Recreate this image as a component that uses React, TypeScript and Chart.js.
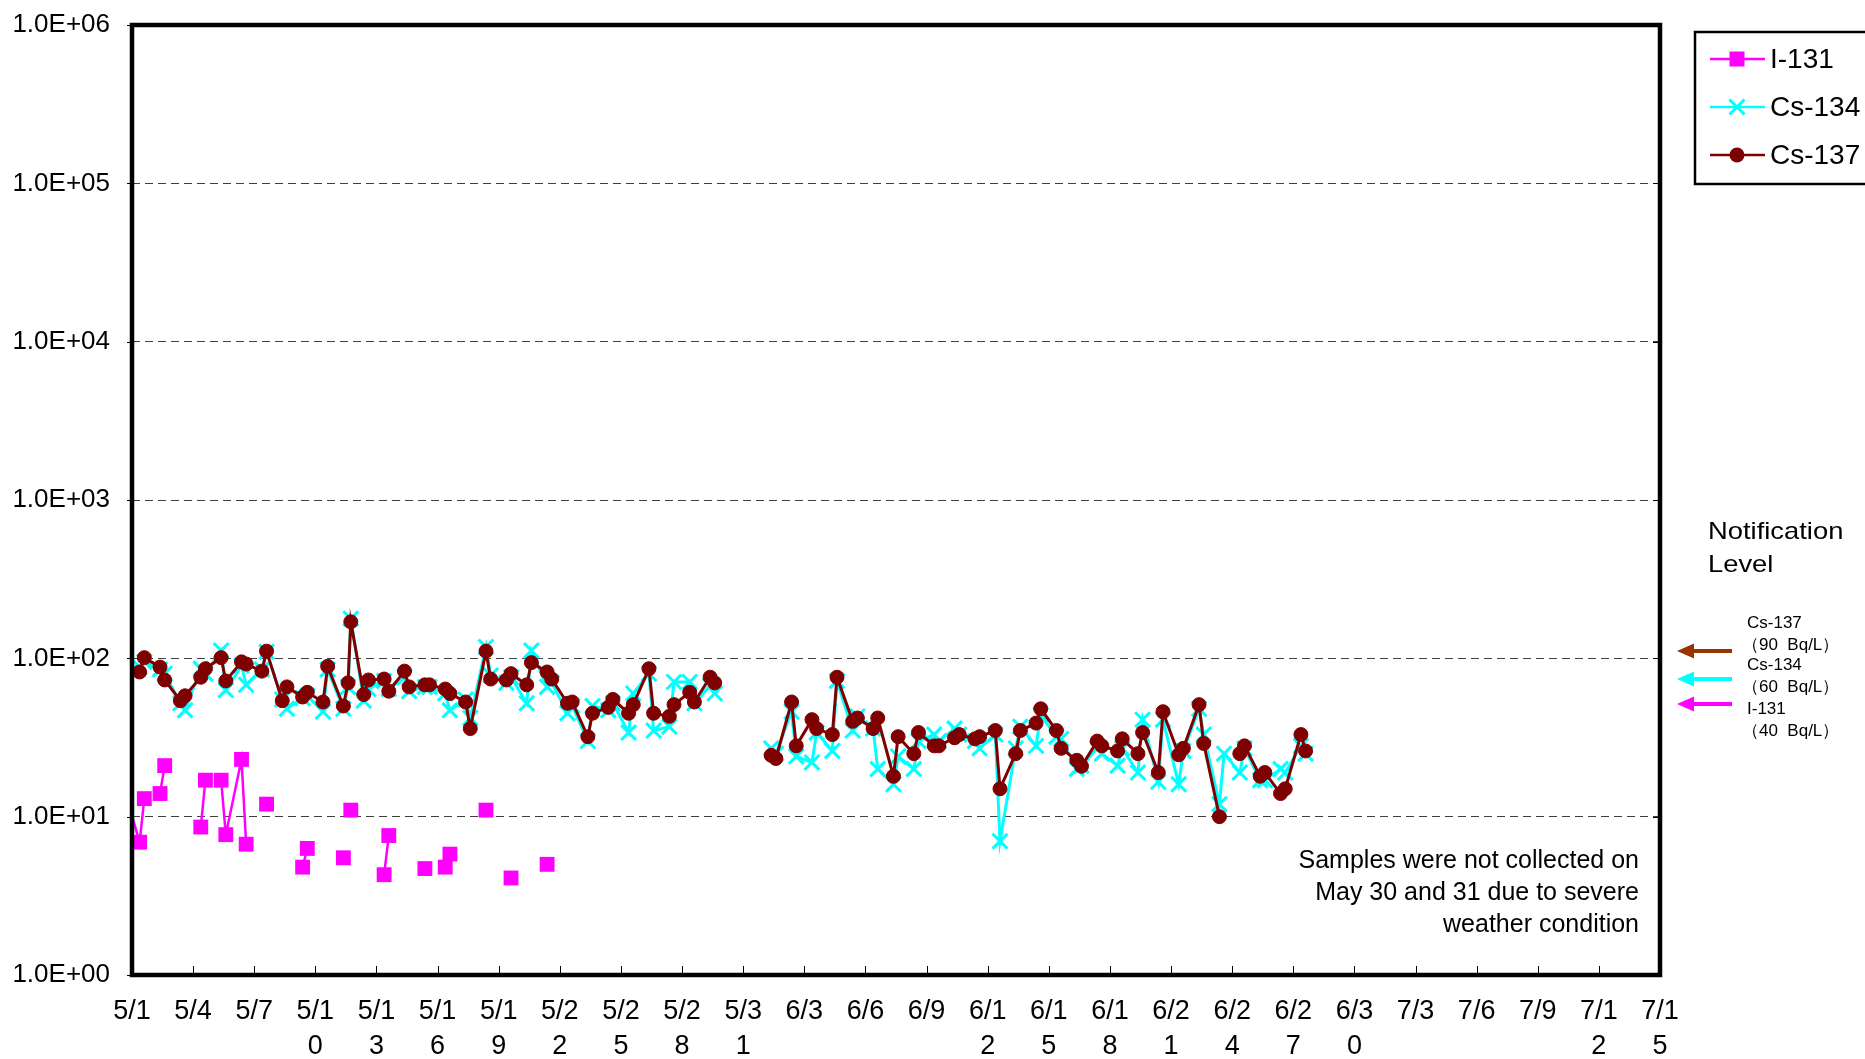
import React, { useEffect, useRef } from "react";
import { Chart, registerables } from "chart.js";

Chart.register(...registerables);

// ---- data ----
const sampleTimes = [
  "4/30 14:30",
  "5/1 09:00", "5/1 14:30", "5/2 09:00", "5/2 14:30", "5/3 09:00", "5/3 14:30",
  "5/4 09:00", "5/4 14:30", "5/5 09:00", "5/5 14:30", "5/6 09:00", "5/6 14:30",
  "5/7 09:00", "5/7 14:30", "5/8 09:00", "5/8 14:30", "5/9 09:00", "5/9 14:30",
  "5/10 09:00", "5/10 14:30", "5/11 09:00", "5/11 14:30", "5/11 17:45",
  "5/12 09:00", "5/12 14:30", "5/13 09:00", "5/13 14:30", "5/14 09:00", "5/14 14:30",
  "5/15 09:00", "5/15 14:30", "5/16 09:00", "5/16 14:30", "5/17 09:00", "5/17 14:30",
  "5/18 09:00", "5/18 14:30", "5/19 09:00", "5/19 14:30", "5/20 09:00", "5/20 14:30",
  "5/21 09:00", "5/21 14:30", "5/22 09:00", "5/22 14:30", "5/23 09:00", "5/23 14:30",
  "5/24 09:00", "5/24 14:30", "5/25 09:00", "5/25 14:30", "5/26 09:00", "5/26 14:30",
  "5/27 09:00", "5/27 14:30", "5/28 09:00", "5/28 14:30", "5/29 09:00", "5/29 14:30",
  "6/1 09:00", "6/1 14:30", "6/2 09:00", "6/2 14:30", "6/3 09:00", "6/3 14:30",
  "6/4 09:00", "6/4 14:30", "6/5 09:00", "6/5 14:30", "6/6 09:00", "6/6 14:30",
  "6/7 09:00", "6/7 14:30", "6/8 09:00", "6/8 14:30", "6/9 09:00", "6/9 14:30",
  "6/10 09:00", "6/10 14:30", "6/11 09:00", "6/11 14:30", "6/12 09:00", "6/12 14:30",
  "6/13 09:00", "6/13 14:30", "6/14 09:00", "6/14 14:30", "6/15 09:00", "6/15 14:30",
  "6/16 09:00", "6/16 14:30", "6/17 09:00", "6/17 14:30", "6/18 09:00", "6/18 14:30",
  "6/19 09:00", "6/19 14:30", "6/20 09:00", "6/20 14:30", "6/21 09:00", "6/21 14:30",
  "6/22 09:00", "6/22 14:30", "6/23 09:00", "6/23 14:30", "6/24 09:00", "6/24 14:30",
  "6/25 09:00", "6/25 14:30", "6/26 09:00", "6/26 14:30", "6/27 09:00", "6/27 14:30",
];

const cs137Values = [
  77,
  82, 101, 88, 73, 54, 58,
  76, 86, 101, 72, 95, 92,
  83, 111, 54, 66, 57, 61,
  53, 89, 50, 70, 170,
  59, 73, 74, 62, 83, 66,
  68, 68, 64, 60, 53, 36,
  111, 74, 73, 80, 68, 94,
  82, 74, 52, 53, 32, 45,
  49, 55, 45, 51, 86, 45,
  43, 51, 61, 53, 76, 70,
  24.4, 23.3, 53, 28, 41, 36,
  33, 76, 40, 42, 36, 42,
  18, 32, 25, 34, 28, 28,
  31.5, 33, 31, 32, 35, 15,
  25, 35, 39, 48, 35, 27,
  22.7, 20.8, 30, 28, 26, 31,
  25, 34, 19, 46, 24.6, 27,
  51, 29, 10, null, 25, 28,
  18, 19, 14, 15, 33, 26,
];

const cs134Values = [
  90,
  88, 95, 85, 80, 52, 47,
  86, 80, 112, 63, 90, 68,
  85, 110, 55, 48, 56, 58,
  46, 85, 48, 66, 178,
  54, 64, 72, 64, 76, 62,
  66, 66, 60, 47, 55, 42,
  118, 78, 70, 76, 52, 112,
  66, 70, 45, 50, 30, 50,
  47, 52, 34, 60, 80, 35,
  37, 71, 71, 52, 67, 60,
  27, 25, 46, 24, 22, 34,
  26, 72, 35, 43, 36, 20,
  16, 24, 20, 30, 33, 30,
  36, 33, 30, 27, 33, 7,
  27, 37, 28, 44, 32, 31,
  20, 21, 27, 25, 21, 27,
  19, 41, 16.6, 41, 16, 26,
  48, 33, 12, 25, 19, 27,
  17, 17, 20, 19, 28, 25,
];

const i131Times = [
  "4/30 14:30", "5/1 09:00", "5/1 14:30", "5/1 20:00", "5/2 09:00", "5/2 14:30",
  "5/3 09:00", "5/4 09:00", "5/4 14:30", "5/4 20:00", "5/5 09:00", "5/5 14:30",
  "5/6 09:00", "5/6 14:30", "5/7 09:00", "5/7 14:30", "5/8 09:00", "5/9 09:00",
  "5/9 14:30", "5/10 09:00", "5/11 09:00", "5/11 14:30", "5/11 17:45", "5/12 09:00",
  "5/13 09:00", "5/13 14:30", "5/14 09:00", "5/15 09:00", "5/15 14:30", "5/16 09:00",
  "5/16 14:30", "5/17 09:00", "5/18 09:00", "5/18 14:30", "5/19 14:30", "5/20 09:00",
  "5/21 09:00",
];
const i131Values = [
  15, 6.9, 13, null, 14, 21,
  null, 8.6, 17, null, 17, 7.7,
  23, 6.7, null, 12, null, 4.8,
  6.3, null, 5.5, null, 11, null,
  4.3, 7.6, null, 4.7, null, 4.8,
  5.8, null, 11, null, 4.1, null,
  5.0,
];

const xTickLabels = [
  "5/1", "5/4", "5/7", "5/10", "5/13", "5/16", "5/19", "5/22", "5/25", "5/28", "5/31",
  "6/3", "6/6", "6/9", "6/12", "6/15", "6/18", "6/21", "6/24", "6/27", "6/30",
  "7/3", "7/6", "7/9", "7/12", "7/15",
];
const yTickValues = [1, 10, 100, 1000, 10000, 100000, 1000000];
const yTickLabels = ["1.0E+00", "1.0E+01", "1.0E+02", "1.0E+03", "1.0E+04", "1.0E+05", "1.0E+06"];

const seriesNames = ["I-131", "Cs-134", "Cs-137"];
const seriesColors = ["#FF00FF", "#00FFFF", "#7F0000"];

const limitNames = ["Cs-137", "Cs-134", "I-131"];
const limitTexts = ["（90  Bq/L）", "（60  Bq/L）", "（40  Bq/L）"];
const limitColors = ["#993300", "#00FFFF", "#FF00FF"];

const noteLines = ["Samples were not collected on", "May 30 and 31 due to severe", "weather condition"];
const notificationTitle = ["Notification", "Level"];

// ---- helpers ----
const monthOffset: Record<number, number> = { 4: -30, 5: 0, 6: 31, 7: 61 };
function toDay(s: string): number {
  const [md, hm] = s.split(" ");
  const [m, d] = md.split("/").map(Number);
  const [h, mi] = hm.split(":").map(Number);
  return monthOffset[m] + d - 1 + (h + mi / 60) / 24;
}

const FONT = "'Liberation Sans', Arial, sans-serif";

function drawMarker(ctx: CanvasRenderingContext2D, kind: number, x: number, y: number, color: string) {
  ctx.save();
  if (kind === 0) {
    ctx.fillStyle = color;
    ctx.fillRect(x - 7.5, y - 7.5, 15, 15);
  } else if (kind === 1) {
    ctx.strokeStyle = color;
    ctx.lineWidth = 3;
    const r = 7.5;
    ctx.beginPath();
    ctx.moveTo(x - r, y - r);
    ctx.lineTo(x + r, y + r);
    ctx.moveTo(x + r, y - r);
    ctx.lineTo(x - r, y + r);
    ctx.stroke();
  } else {
    ctx.fillStyle = color;
    ctx.beginPath();
    ctx.arc(x, y, 7.5, 0, Math.PI * 2);
    ctx.fill();
  }
  ctx.restore();
}

function scaledText(ctx: CanvasRenderingContext2D, text: string, x: number, y: number, sx: number, align: CanvasTextAlign) {
  ctx.save();
  ctx.translate(x, y);
  ctx.scale(sx, 1);
  ctx.textAlign = align;
  ctx.fillText(text, 0, 0);
  ctx.restore();
}

const overlayPlugin = {
  id: "overlay",
  afterDraw(chart: any) {
    const { ctx, chartArea: a, scales } = chart;
    ctx.save();
    ctx.strokeStyle = "#000";
    ctx.lineWidth = 1;
    // x tick marks (inside)
    scales.x.ticks.forEach((t: any) => {
      const px = Math.round(scales.x.getPixelForValue(t.value)) + 0.5;
      ctx.beginPath();
      ctx.moveTo(px, a.bottom);
      ctx.lineTo(px, a.bottom - 9);
      ctx.stroke();
    });
    // y tick marks
    yTickValues.forEach((v) => {
      const py = Math.round(scales.y.getPixelForValue(v)) + 0.5;
      ctx.beginPath();
      ctx.moveTo(a.left - 5, py);
      ctx.lineTo(a.left, py);
      ctx.moveTo(a.right - 7, py);
      ctx.lineTo(a.right, py);
      ctx.stroke();
    });
    // frame
    ctx.lineWidth = 4.5;
    ctx.strokeRect(a.left, a.top, a.right - a.left, a.bottom - a.top);

    // legend
    ctx.lineWidth = 2.5;
    ctx.strokeRect(1695, 32, 185, 152);
    ctx.font = `28px ${FONT}`;
    ctx.fillStyle = "#000";
    ctx.textBaseline = "middle";
    seriesNames.forEach((name, i) => {
      const y = 59 + i * 48;
      ctx.strokeStyle = seriesColors[i];
      ctx.lineWidth = 2.5;
      ctx.beginPath();
      ctx.moveTo(1710, y);
      ctx.lineTo(1765, y);
      ctx.stroke();
      drawMarker(ctx, i, 1737, y, seriesColors[i]);
      ctx.fillStyle = "#000";
      ctx.textAlign = "left";
      ctx.fillText(name, 1770, y + 1);
    });

    // Notification level title
    ctx.textBaseline = "alphabetic";
    ctx.font = `24px ${FONT}`;
    ctx.fillStyle = "#000";
    notificationTitle.forEach((t, i) => scaledText(ctx, t, 1708, 539 + i * 33, 1.14, "left"));

    // Notification arrows
    const arrowY = [651, 679, 704];
    limitColors.forEach((c, i) => {
      const y = arrowY[i];
      ctx.strokeStyle = c;
      ctx.fillStyle = c;
      ctx.lineWidth = 4;
      ctx.beginPath();
      ctx.moveTo(1732, y);
      ctx.lineTo(1690, y);
      ctx.stroke();
      ctx.beginPath();
      ctx.moveTo(1677, y);
      ctx.lineTo(1694, y - 7.5);
      ctx.lineTo(1694, y + 7.5);
      ctx.closePath();
      ctx.fill();
    });
    ctx.font = `17px ${FONT}`;
    ctx.fillStyle = "#000";
    ctx.textBaseline = "middle";
    const nameY = [623, 665, 709];
    limitNames.forEach((n, i) => {
      scaledText(ctx, n, 1747, nameY[i], 1.0, "left");
      scaledText(ctx, limitTexts[i], 1742, nameY[i] + 22, 1.0, "left");
    });

    // note
    ctx.textBaseline = "alphabetic";
    ctx.font = `25px ${FONT}`;
    noteLines.forEach((t, i) => scaledText(ctx, t, 1639, 868 + i * 32, 1.0, "right"));
    ctx.restore();
  },
};

export default function App() {
  const ref = useRef<HTMLCanvasElement>(null);
  useEffect(() => {
    const canvas = ref.current;
    if (!canvas) return;
    const chart = new Chart(canvas, {
      type: "line",
      data: {
        datasets: [
          {
            label: seriesNames[0],
            data: i131Times.map((t, i) => ({ x: toDay(t), y: i131Values[i] })),
            borderColor: seriesColors[0],
            backgroundColor: seriesColors[0],
            borderWidth: 2.5,
            pointStyle: "rect",
            pointRadius: 10.5,
            pointBorderWidth: 0,
            spanGaps: false,
            tension: 0,
            order: 3,
          },
          {
            label: seriesNames[1],
            data: sampleTimes.map((t, i) => ({ x: toDay(t), y: cs134Values[i] })),
            borderColor: seriesColors[1],
            backgroundColor: seriesColors[1],
            borderWidth: 3,
            pointStyle: "crossRot",
            pointRadius: 10.5,
            pointBorderWidth: 3,
            spanGaps: 1.5,
            tension: 0,
            order: 2,
          },
          {
            label: seriesNames[2],
            data: sampleTimes.map((t, i) => ({ x: toDay(t), y: cs137Values[i] })),
            borderColor: seriesColors[2],
            backgroundColor: seriesColors[2],
            borderWidth: 3,
            pointStyle: "circle",
            pointRadius: 7,
            pointBorderWidth: 1,
            spanGaps: 1.5,
            tension: 0,
            order: 1,
          },
        ] as any,
      },
      options: {
        animation: false,
        responsive: false,
        devicePixelRatio: 1,
        events: [],
        layout: { padding: { left: 0, top: 25, right: 205, bottom: 0 } },
        plugins: {
          legend: { display: false },
          tooltip: { enabled: false },
        },
        scales: {
          x: {
            type: "linear",
            min: 0,
            max: 75,
            afterFit: (s: any) => {
              s.height = 84;
              s.paddingLeft = 0;
              s.paddingRight = 0;
              s.paddingTop = 0;
              s.paddingBottom = 0;
            },
            afterBuildTicks: (s: any) => {
              s.ticks = xTickLabels.map((_, i) => ({ value: i * 3 }));
            },
            grid: { display: false, drawTicks: false },
            border: { display: false },
            ticks: {
              autoSkip: false,
              maxRotation: 0,
              minRotation: 0,
              padding: 19,
              color: "#000",
              font: { family: FONT, size: 27, lineHeight: 1.3 },
              callback: (v: any) => {
                const lbl = xTickLabels[Math.round(Number(v) / 3)] || "";
                return lbl.length > 3 ? [lbl.slice(0, 3), lbl.slice(3)] : lbl;
              },
            },
          },
          y: {
            type: "logarithmic",
            min: 1,
            max: 1000000,
            afterFit: (s: any) => {
              s.width = 132;
              s.paddingLeft = 0;
              s.paddingRight = 0;
              s.paddingTop = 0;
              s.paddingBottom = 0;
            },
            afterBuildTicks: (s: any) => {
              s.ticks = yTickValues.map((v) => ({ value: v, major: true }));
            },
            grid: {
              drawTicks: false,
              color: (c: any) =>
                c.tick && (c.tick.value === 1 || c.tick.value === 1000000) ? "rgba(0,0,0,0)" : "#404040",
              lineWidth: 1,
            },
            border: { display: false, dash: [8, 5] },
            ticks: {
              padding: 22,
              color: "#000",
              font: { family: FONT, size: 26 },
              callback: (v: any) => {
                const idx = yTickValues.indexOf(Number(v));
                return idx >= 0 ? yTickLabels[idx] : "";
              },
            },
          },
        },
      },
      plugins: [overlayPlugin],
    } as any);
    return () => chart.destroy();
  }, []);

  return (
    <div style={{ position: "fixed", left: 0, top: 0, width: 1865, height: 1059, background: "#fff" }}>
      <canvas ref={ref} width={1865} height={1059} style={{ display: "block", width: 1865, height: 1059 }} />
    </div>
  );
}
